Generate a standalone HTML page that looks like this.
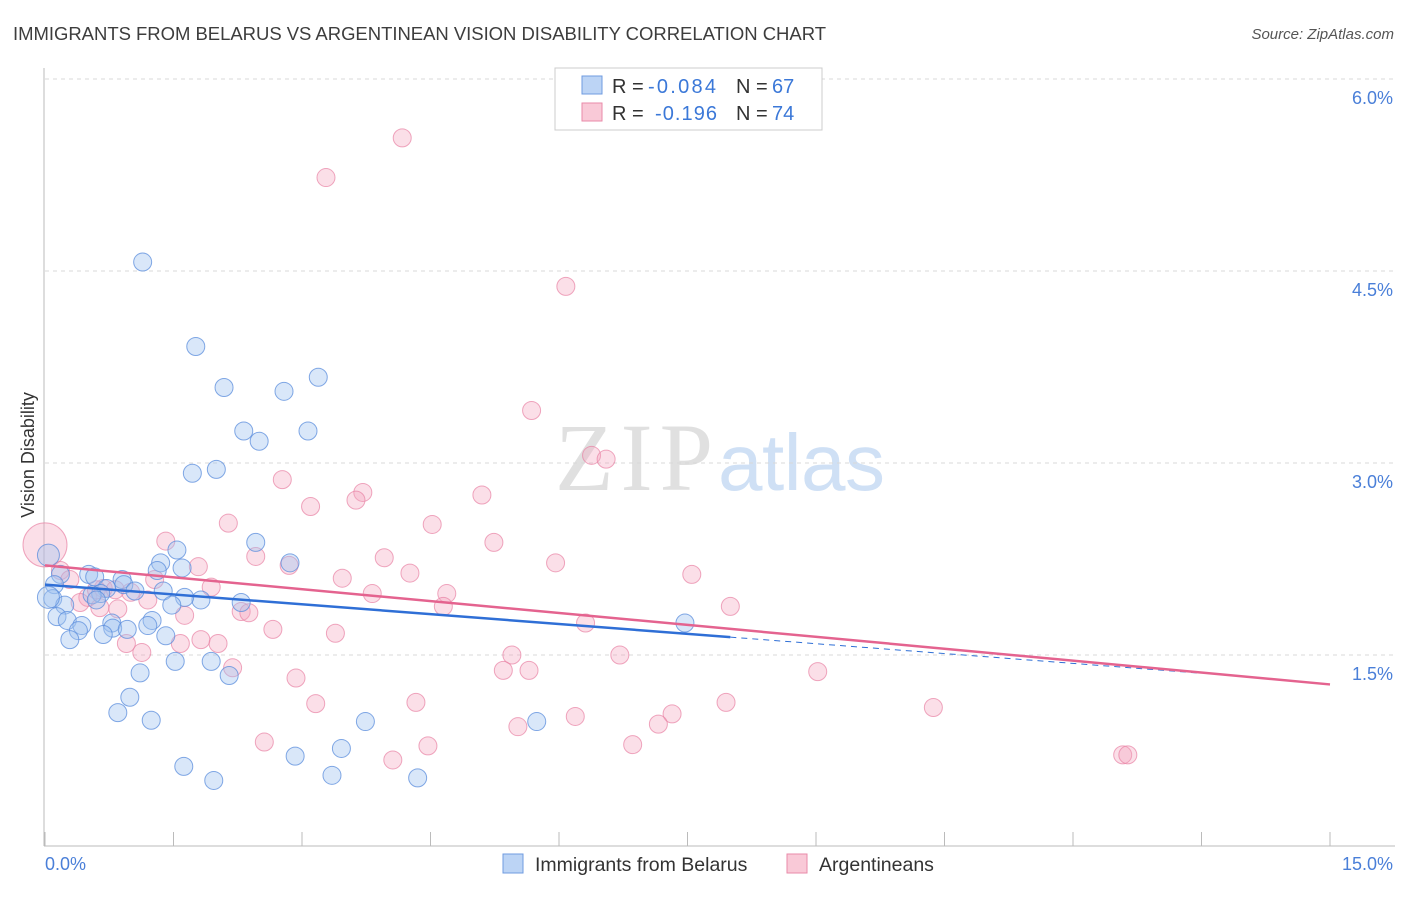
<!DOCTYPE html>
<html><head><meta charset="utf-8"><style>
body{margin:0;background:#fff;font-family:"Liberation Sans",sans-serif;}
svg text{font-family:"Liberation Sans",sans-serif;}
</style></head><body>
<svg id="chart" width="1406" height="892" viewBox="0 0 1406 892" xmlns="http://www.w3.org/2000/svg">
<text x="13" y="40" font-size="18.5" fill="#3d3d3d" textLength="813">IMMIGRANTS FROM BELARUS VS ARGENTINEAN VISION DISABILITY CORRELATION CHART</text>
<text x="1394" y="39" font-size="15" fill="#555" font-style="italic" text-anchor="end">Source: ZipAtlas.com</text>
<g>
<text x="555" y="490" font-size="96" fill="#e0e0e0" style="font-family:'Liberation Serif',serif" textLength="158">ZIP</text>
<text x="718" y="490" font-size="80" fill="#cfe0f5" textLength="167">atlas</text>
</g>
<g id="grid"></g>
<g id="axes"></g>
<g id="marks"></g>
<g>
<rect x="555" y="68" width="267" height="62" fill="#fff" stroke="#ccc"/>
<rect x="582" y="76" width="20" height="18" fill="#bcd4f5" stroke="#6f9be0"/>
<rect x="582" y="103" width="20" height="18" fill="#f9c9d7" stroke="#e98aa8"/>
<text x="612" y="93" font-size="20" fill="#333">R = </text><text x="648" y="93" font-size="20" fill="#3b78d8" textLength="68">-0.084</text>
<text x="736" y="93" font-size="20" fill="#333">N = </text><text x="772" y="93" font-size="20" fill="#3b78d8">67</text>
<text x="612" y="120" font-size="20" fill="#333">R = </text><text x="655" y="120" font-size="20" fill="#3b78d8" textLength="62">-0.196</text>
<text x="736" y="120" font-size="20" fill="#333">N = </text><text x="772" y="120" font-size="20" fill="#3b78d8">74</text>
</g>
<g>
<rect x="503" y="854" width="20" height="19" fill="#bcd4f5" stroke="#6f9be0"/>
<text x="535" y="871" font-size="19.5" fill="#333">Immigrants from Belarus</text>
<rect x="787" y="854" width="20" height="19" fill="#f9c9d7" stroke="#e98aa8"/>
<text x="819" y="871" font-size="19.5" fill="#333">Argentineans</text>
</g>
<text transform="translate(34,455) rotate(-90)" font-size="18" fill="#333" text-anchor="middle">Vision Disability</text>
</svg>
<script>
const yTicks=[1.5,3.0,4.5,6.0];
const yTickLabels=["1.5%","3.0%","4.5%","6.0%"];
const xTicks=[0,1.5,3,4.5,6,7.5,9,10.5,12,13.5,15];
const blueX=[1.14,1.76,2.09,3.19,2.79,2.32,3.07,2.50,2.00,1.72,2.46,1.54,2.86,1.35,1.31,1.60,0.51,0.58,0.18,0.90,0.92,0.11,0.72,0.09,0.65,0.55,0.60,1.05,1.38,1.82,1.63,1.48,2.29,0.23,0.14,0.26,0.78,1.25,0.79,0.96,1.20,0.43,0.39,0.29,0.68,1.41,1.11,1.52,1.94,2.15,0.99,0.85,1.24,3.74,5.74,3.46,2.92,1.62,3.35,4.35,1.97,7.47,0.04,0.04];
const blueY=[4.57,3.91,3.59,3.67,3.56,3.25,3.25,3.17,2.95,2.92,2.38,2.32,2.22,2.22,2.16,2.18,2.13,2.11,2.13,2.09,2.05,2.05,2.02,1.94,1.98,1.97,1.93,2.00,2.00,1.93,1.95,1.89,1.91,1.89,1.80,1.77,1.75,1.77,1.71,1.70,1.73,1.73,1.69,1.62,1.66,1.65,1.36,1.45,1.45,1.34,1.17,1.05,0.99,0.98,0.98,0.77,0.71,0.63,0.56,0.54,0.52,1.75,1.95,2.28];
const pinkX=[4.17,3.28,6.08,5.68,6.38,6.55,2.77,5.10,3.71,3.63,3.10,2.14,4.52,5.24,1.41,3.96,5.96,2.46,2.85,1.79,4.26,7.55,3.47,0.0,0.18,0.29,1.28,1.94,0.68,0.82,3.82,4.69,1.00,0.50,1.20,0.41,8.00,4.65,2.29,2.38,0.85,1.63,2.66,3.39,6.31,0.95,1.58,2.02,1.82,1.13,5.45,6.71,2.19,5.35,5.65,9.02,2.93,3.16,4.33,7.95,10.37,7.32,6.19,7.16,5.52,2.56,4.47,6.86,4.06,12.58,12.64,0.60,0.64];
const pinkY=[5.54,5.23,4.38,3.41,3.06,3.03,2.87,2.75,2.77,2.71,2.66,2.53,2.52,2.38,2.39,2.26,2.22,2.27,2.20,2.19,2.14,2.13,2.10,2.36,2.16,2.09,2.09,2.03,2.02,2.01,1.98,1.98,1.99,1.95,1.93,1.91,1.88,1.88,1.84,1.83,1.86,1.81,1.70,1.67,1.75,1.59,1.59,1.59,1.62,1.52,1.50,1.50,1.40,1.38,1.38,1.37,1.32,1.12,1.13,1.13,1.09,1.04,1.02,0.96,0.94,0.82,0.79,0.80,0.68,0.72,0.72,2.01,1.87];
const blueTrend=[2.05,-0.0513];
const pinkTrend=[2.20,-0.062];
const blueSolidEnd=8.0, blueDashEnd=13.5;

const NS="http://www.w3.org/2000/svg";
const X0=45,X1=1330,Y0=847,PX_PER=128;
function sx(v){return X0+(X1-X0)*v/15;}
function sy(v){return Y0-v*PX_PER;}
function mk(t,a,p){const e=document.createElementNS(NS,t);for(const k in a)e.setAttribute(k,a[k]);p.appendChild(e);return e;}
const grid=document.getElementById('grid'),axes=document.getElementById('axes'),marks=document.getElementById('marks');
yTicks.forEach((t,i)=>{
  const l=mk('line',{x1:45,x2:1395,y1:sy(t),y2:sy(t),stroke:'#d8d8d8','stroke-dasharray':'4,4'},grid);
  
  
  const tx=mk('text',{x:1393,y:sy(t)+25,'font-size':18,fill:'#4a7fd8','text-anchor':'end'},grid);
  tx.textContent=yTickLabels[i];
  
  
});
const ya=mk('line',{x1:44,x2:44,y1:68,y2:846,stroke:'#bbb'},axes);


const xa=mk('line',{x1:44,x2:1395,y1:846,y2:846,stroke:'#bbb'},axes);


xTicks.forEach(t=>{
  const l=mk('line',{x1:sx(t),x2:sx(t),y1:832,y2:846,stroke:'#bbb'},axes);
  
  
});
const xl0=mk('text',{x:45,y:870,'font-size':18,fill:'#4a7fd8'},axes);xl0.textContent='0.0%';


const xl1=mk('text',{x:1393,y:870,'font-size':18,fill:'#4a7fd8','text-anchor':'end'},axes);xl1.textContent='15.0%';



pinkX.forEach((x,i)=>{
  const r=(i===23)?22:9;
  const c=mk('circle',{cx:sx(x),cy:sy(pinkY[i]),r:r,fill:'rgba(244,164,190,0.35)',stroke:'rgba(232,130,164,0.7)','stroke-width':1},marks);
  
  
});
blueX.forEach((x,i)=>{
  const r=(i>=62)?11:9;
  const c=mk('circle',{cx:sx(x),cy:sy(blueY[i]),r:r,fill:'rgba(160,195,240,0.4)',stroke:'rgba(90,140,220,0.75)','stroke-width':1},marks);
  
  
});
const bl=mk('line',{x1:sx(0),y1:sy(blueTrend[0]),x2:sx(blueSolidEnd),y2:sy(blueTrend[0]+blueTrend[1]*blueSolidEnd),stroke:'#2f6fd6','stroke-width':2.5},marks);


const bd=mk('line',{x1:sx(blueSolidEnd),y1:sy(blueTrend[0]+blueTrend[1]*blueSolidEnd),x2:sx(blueDashEnd),y2:sy(blueTrend[0]+blueTrend[1]*blueDashEnd),stroke:'#2f6fd6','stroke-width':1,'stroke-dasharray':'6,5'},marks);


const pl=mk('line',{x1:sx(0),y1:sy(pinkTrend[0]),x2:sx(15),y2:sy(pinkTrend[0]+pinkTrend[1]*15),stroke:'#e4638f','stroke-width':2.5},marks);


</script>
</body></html>
